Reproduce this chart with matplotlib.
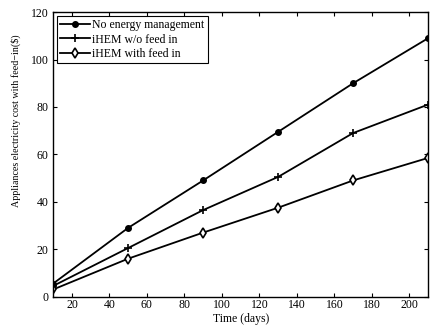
import matplotlib
matplotlib.use("Agg")
import matplotlib.pyplot as plt

plt.rcParams['font.family'] = ['Liberation Serif', 'DejaVu Serif']

days = [10, 50, 90, 130, 170, 210]
no_management = [5.5, 29, 49, 69.5, 90, 109]
ihem_no_feed = [4.5, 20.5, 36.5, 50.5, 69, 81]
ihem_feed = [3, 16, 27, 37.5, 49, 58.5]

fig = plt.figure(figsize=(4.36, 3.27), dpi=100)
ax = fig.add_axes([0.122, 0.093, 0.860, 0.870])

ax.plot(days, no_management, color='black', lw=1.3, marker='o', ms=4, label='No energy management')
ax.plot(days, ihem_no_feed, color='black', lw=1.3, marker='+', ms=6, mew=1.2, label='iHEM w/o feed in')
ax.plot(days, ihem_feed, color='black', lw=1.3, marker='d', ms=5, mfc='white', mew=1.2, label='iHEM with feed in')

ax.set_xlim(10, 210)
ax.set_ylim(0, 120)
ax.set_xticks(range(20, 201, 20))
ax.set_yticks(range(0, 121, 20))
ax.tick_params(direction='in', top=True, right=True, labelsize=8.5, length=3)
ax.tick_params(axis='x', pad=2)
for s in ax.spines.values():
    s.set_linewidth(1.0)

ax.set_xlabel('Time (days)', fontsize=8.5)
ax.xaxis.set_label_coords(0.5, -0.058)
ax.set_ylabel('Appliances electricity cost with feed\u2212in($)', fontsize=7.2)
ax.yaxis.set_label_coords(-0.085, 0.62)

leg = ax.legend(loc='upper left', fontsize=8.5, fancybox=False, edgecolor='black',
                handlelength=2.5, borderpad=0.3, labelspacing=0.2, handletextpad=0.2,
                borderaxespad=0.3, framealpha=1)
leg.get_frame().set_linewidth(0.8)

fig.savefig('out.png', dpi=100)
